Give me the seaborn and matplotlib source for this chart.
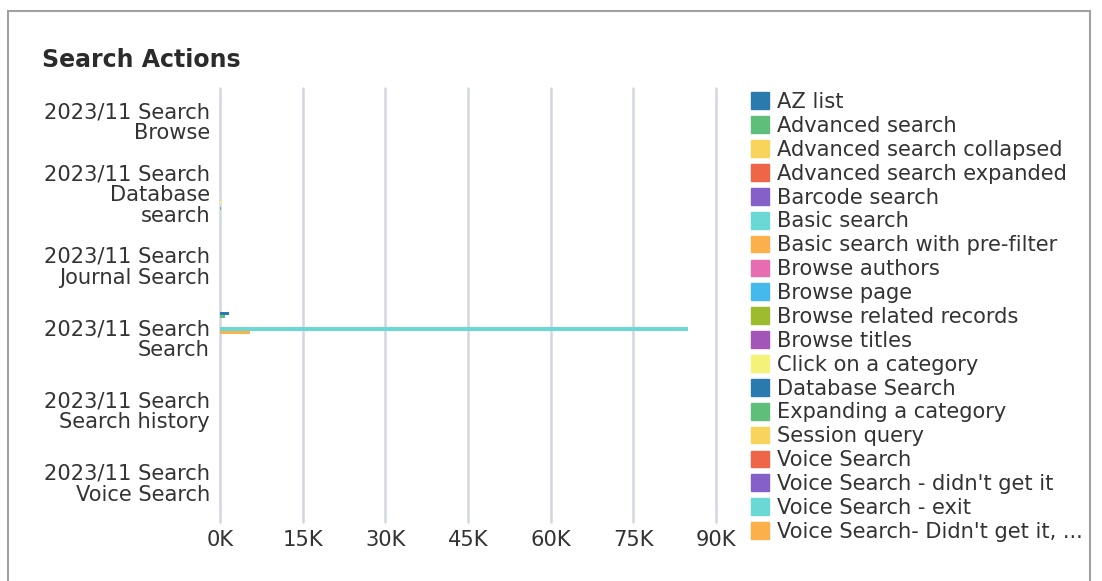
import pandas as pd
import matplotlib.pyplot as plt
import matplotlib.patches as mpatches
import matplotlib.transforms as mtransforms
import seaborn as sns

# =====================================================================
# Donnees
# =====================================================================
groups = [
    "2023/11 Search\nBrowse",
    "2023/11 Search\nDatabase\nsearch",
    "2023/11 Search\nJournal Search",
    "2023/11 Search\nSearch",
    "2023/11 Search\nSearch history",
    "2023/11 Search\nVoice Search",
]

actions = [
    "AZ list", "Advanced search", "Advanced search collapsed",
    "Advanced search expanded", "Barcode search", "Basic search",
    "Basic search with pre-filter", "Browse authors", "Browse page",
    "Browse related records", "Browse titles", "Click on a category",
    "Database Search", "Expanding a category", "Session query",
    "Voice Search", "Voice Search - didn't get it", "Voice Search - exit",
    "Voice Search- Didn't get it, ...",
]

# une liste de valeurs par groupe, dans l'ordre de "actions"
browse_vals = [0, 0, 0, 0, 0, 0, 0, 0, 0, 0, 0, 0, 0, 0, 0, 0, 0, 0, 0]
database_vals = [0, 0, 0, 0, 0, 0, 0, 0, 0, 0, 0, 400, 0, 250, 0, 0, 0, 0, 0]
journal_vals = [0, 0, 0, 0, 0, 0, 0, 0, 0, 0, 0, 0, 0, 0, 0, 0, 0, 0, 0]
search_vals = [1600, 900, 0, 0, 0, 84900, 5400, 0, 0, 0, 0, 0, 0, 0, 0, 0, 0, 0, 0]
history_vals = [0, 0, 0, 0, 0, 0, 0, 0, 0, 0, 0, 0, 0, 0, 0, 0, 0, 0, 0]
voice_vals = [0, 0, 0, 0, 0, 0, 0, 0, 0, 0, 0, 0, 0, 0, 0, 0, 0, 0, 0]

colors = [
    "#2a7ab0", "#5fbf7a", "#f8d45c", "#ef6547", "#8460c8", "#6ad9d6",
    "#fbb04c", "#e56db0", "#45b9ec", "#9dbb2d", "#a455b8", "#f5f27a",
    "#2a7ab0", "#5fbf7a", "#f8d45c", "#ef6547", "#8460c8", "#6ad9d6",
    "#fbb04c",
]

xticks = [0, 15000, 30000, 45000, 60000, 75000, 90000]
xtick_labels = ["0K", "15K", "30K", "45K", "60K", "75K", "90K"]

# =====================================================================
# Mise en forme long
# =====================================================================
rows = []
for g, vals in zip(groups, [browse_vals, database_vals, journal_vals,
                            search_vals, history_vals, voice_vals]):
    for a, v in zip(actions, vals):
        rows.append({"Group": g, "Action": a, "Count": v})
df = pd.DataFrame(rows)

# =====================================================================
# Graphique
# =====================================================================
sns.set_style("white")
plt.rcParams["font.family"] = ["DejaVu Sans"]
text_col = "#333333"
grid_col = "#d2d7df"
fs = 15.1

W, H = 1102, 581
fig = plt.figure(figsize=(W / 100, H / 100), dpi=100)
ax = fig.add_axes([220 / W, 1 - 522 / H, 496 / W, 434 / H])

sns.barplot(data=df, y="Group", x="Count", hue="Action", order=groups,
            hue_order=actions, palette=colors, orient="h", errorbar=None,
            saturation=1, linewidth=0, legend=False, ax=ax, zorder=3)

ax.set_xlim(0, 90000)
ax.set_xticks(xticks)
ax.set_xticklabels(xtick_labels)
ax.set_xlabel("")
ax.set_ylabel("")
ax.grid(axis="x", color=grid_col, linewidth=1.8, zorder=0)
ax.grid(axis="y", visible=False)
for gl in ax.get_xgridlines():
    gl.set_clip_on(False)
for s in ax.spines.values():
    s.set_visible(False)
ax.tick_params(axis="x", length=0, pad=5.8, labelsize=fs, labelcolor=text_col)
ax.tick_params(axis="y", length=0, pad=7.2, labelsize=fs, labelcolor=text_col)
# petit decalage vers le haut des etiquettes de categories
shift = mtransforms.ScaledTranslation(0, 4 / 100, fig.dpi_scale_trans)
for lab in ax.get_yticklabels():
    lab.set_multialignment("right")
    lab.set_linespacing(1.05)
    lab.set_transform(lab.get_transform() + shift)

fig.text(42 / W, 1 - 60 / H, "Search Actions", fontsize=17, fontweight="bold",
         color="#2b2b2b", va="center", ha="left")

handles = [mpatches.Patch(color=c, label=a) for a, c in zip(actions, colors)]
leg = fig.legend(handles=handles, loc="upper left",
                 bbox_to_anchor=(751 / W, 1 - 92 / H), frameon=False,
                 fontsize=fs, labelspacing=0.185, handlelength=0.85,
                 handleheight=0.85, handletextpad=0.4, borderpad=0,
                 borderaxespad=0)
for t in leg.get_texts():
    t.set_color(text_col)

# cadre gris autour du graphique
fig.add_artist(mpatches.Rectangle((8 / W, -0.05), (1090 - 8) / W, 1.05 - 11 / H,
                                  transform=fig.transFigure, fill=False,
                                  edgecolor="#a0a0a0", linewidth=1.5))

fig.savefig("out.png", dpi=100)
